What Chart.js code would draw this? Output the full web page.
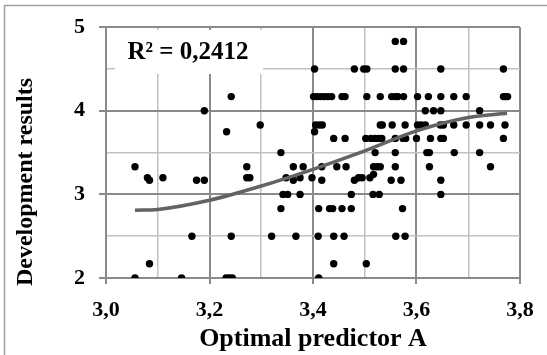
<!DOCTYPE html>
<html>
<head>
<meta charset="utf-8">
<script src="https://cdn.jsdelivr.net/npm/chart.js@4/dist/chart.umd.min.js"></script>
<style>
  body { margin: 0; background: #fff; }
  #wrap { position: relative; width: 547px; height: 355px; }
</style>
</head>
<body>
<div id="wrap"><canvas id="scatterChart" width="547" height="355"></canvas></div>
<script>
// development result levels (y) and the predictor values (x) read at each level
var levels = [4.83, 4.5, 4.17, 4.0, 3.83, 3.75, 3.67, 3.5, 3.33, 3.24, 3.2, 3.17, 3.0, 2.83, 2.5, 2.17, 2.0];
var predictorAtLevel = [
    [3.559, 3.575],
    [3.403, 3.48, 3.498, 3.504, 3.559, 3.575, 3.647, 3.768],
    [3.242, 3.401, 3.408, 3.415, 3.422, 3.429, 3.436, 3.456, 3.462, 3.504, 3.53, 3.552, 3.559, 3.564, 3.575, 3.602, 3.623, 3.647, 3.672, 3.696, 3.768, 3.772, 3.776],
    [3.19, 3.617, 3.633, 3.647, 3.722],
    [3.298, 3.405, 3.412, 3.418, 3.53, 3.534, 3.553, 3.578, 3.602, 3.609, 3.617, 3.646, 3.652, 3.672, 3.696, 3.722, 3.743, 3.771],
    [3.233, 3.403],
    [3.44, 3.462, 3.502, 3.512, 3.52, 3.527, 3.533, 3.559, 3.574, 3.579, 3.6, 3.627, 3.647, 3.652, 3.768],
    [3.338, 3.52, 3.559, 3.62, 3.625, 3.673, 3.722],
    [3.056, 3.272, 3.362, 3.381, 3.417, 3.446, 3.464, 3.517, 3.524, 3.53, 3.559, 3.625, 3.743],
    [3.517],
    [3.08, 3.11, 3.272, 3.278, 3.348, 3.375, 3.398, 3.488, 3.495, 3.51],
    [3.084, 3.175, 3.19, 3.362, 3.417, 3.48, 3.551, 3.57, 3.647],
    [3.342, 3.351, 3.375, 3.474, 3.516, 3.528, 3.647],
    [3.338, 3.411, 3.432, 3.438, 3.456, 3.474, 3.573],
    [3.166, 3.242, 3.32, 3.367, 3.41, 3.44, 3.46, 3.56, 3.578],
    [3.084, 3.44, 3.503],
    [3.056, 3.146, 3.232, 3.238, 3.244, 3.411]
];

// trend line
var trendX = [3.056, 3.1, 3.2, 3.3, 3.4, 3.5, 3.6, 3.7, 3.775];
var trendY = [2.81, 2.82, 2.93, 3.1, 3.3, 3.52, 3.76, 3.92, 3.97];

var xTicks = [3.0, 3.2, 3.4, 3.6, 3.8];
var yTicks = [2, 3, 4, 5];
var rSquared = 'R² = 0,2412';

var points = [];
levels.forEach(function (lv, i) {
    predictorAtLevel[i].forEach(function (x) { points.push({x: x, y: lv}); });
});
var trend = trendX.map(function (x, i) { return {x: x, y: trendY[i]}; });

var serif = '"Liberation Serif", "Times New Roman", serif';
var majorGrid = '#8a8a8a', minorGrid = '#c2c2c2';

function isXMajor(v) { return xTicks.some(function (t) { return Math.abs(t - v) < 1e-6; }); }
function isYMajor(v) { return yTicks.some(function (t) { return Math.abs(t - v) < 1e-6; }); }

var textPlugin = {
    id: 'texts',
    beforeDraw: function (chart) {
        var c = chart.ctx;
        c.save();
        c.strokeStyle = '#a0a0a0';
        c.lineWidth = 1.5;
        c.beginPath();
        c.moveTo(4.5, 355);
        c.lineTo(4.5, 5.5);
        c.lineTo(547, 5.5);
        c.stroke();
        c.restore();
    },
    afterDatasetsDraw: function (chart) {
        var c = chart.ctx;
        c.save();
        c.fillStyle = '#fff';
        c.fillRect(115, 30, 148, 44);
        c.fillStyle = '#000';
        c.font = 'bold 25px ' + serif;
        c.textAlign = 'center';
        c.textBaseline = 'alphabetic';
        c.fillText(rSquared, 188, 59);
        c.restore();
    },
    afterDraw: function (chart) {
        var c = chart.ctx;
        c.save();
        c.fillStyle = '#000';
        c.textAlign = 'center';
        c.textBaseline = 'middle';
        c.font = 'bold 26px ' + serif;
        c.fillText('Optimal predictor A', 313, 339);
        c.translate(26, 182);
        c.rotate(-Math.PI / 2);
        c.font = 'bold 24px ' + serif;
        c.fillText('Development results', 0, 0);
        c.restore();
    }
};

var ctx = document.getElementById('scatterChart').getContext('2d');
new Chart(ctx, {
    type: 'scatter',
    data: {
        datasets: [
            {
                label: 'Trend',
                type: 'line',
                data: trend,
                borderColor: '#636363',
                borderWidth: 3.5,
                pointRadius: 0,
                fill: false,
                cubicInterpolationMode: 'monotone',
                order: 0
            },
            {
                label: 'Results',
                data: points,
                backgroundColor: '#000',
                borderWidth: 0,
                pointRadius: 3.7,
                order: 1
            }
        ]
    },
    options: {
        responsive: false,
        animation: false,
        layout: {padding: {top: 25, right: 27, left: 0, bottom: 0}},
        plugins: {legend: {display: false}, tooltip: {enabled: false}},
        scales: {
            x: {
                type: 'linear',
                min: 3.0,
                max: 3.8,
                afterFit: function (s) { s.height = 77; },
                ticks: {
                    stepSize: 0.1,
                    autoSkip: false,
                    maxRotation: 0,
                    padding: 13,
                    color: '#000',
                    font: {family: serif, size: 22, weight: 'bold'},
                    callback: function (v) { return isXMajor(v) ? v.toFixed(1).replace('.', ',') : ''; }
                },
                grid: {
                    color: function (c) { return isXMajor(c.tick.value) ? majorGrid : minorGrid; },
                    lineWidth: function (c) { return isXMajor(c.tick.value) ? 2 : 1.5; },
                    tickColor: function (c) { return isXMajor(c.tick.value) ? majorGrid : 'rgba(0,0,0,0)'; },
                    tickLength: 6
                },
                border: {color: majorGrid, width: 2}
            },
            y: {
                min: 2,
                max: 5,
                afterFit: function (s) { s.width = 106; },
                ticks: {
                    stepSize: 0.5,
                    autoSkip: false,
                    padding: 14,
                    color: '#000',
                    font: {family: serif, size: 22, weight: 'bold'},
                    callback: function (v) { return isYMajor(v) ? String(v) : ''; }
                },
                grid: {
                    color: function (c) { return isYMajor(c.tick.value) ? majorGrid : minorGrid; },
                    lineWidth: function (c) { return isYMajor(c.tick.value) ? 2 : 1.5; },
                    tickColor: function (c) { return isYMajor(c.tick.value) ? majorGrid : 'rgba(0,0,0,0)'; },
                    tickLength: 7
                },
                border: {color: majorGrid, width: 2}
            }
        }
    },
    plugins: [textPlugin]
});
</script>
</body>
</html>
